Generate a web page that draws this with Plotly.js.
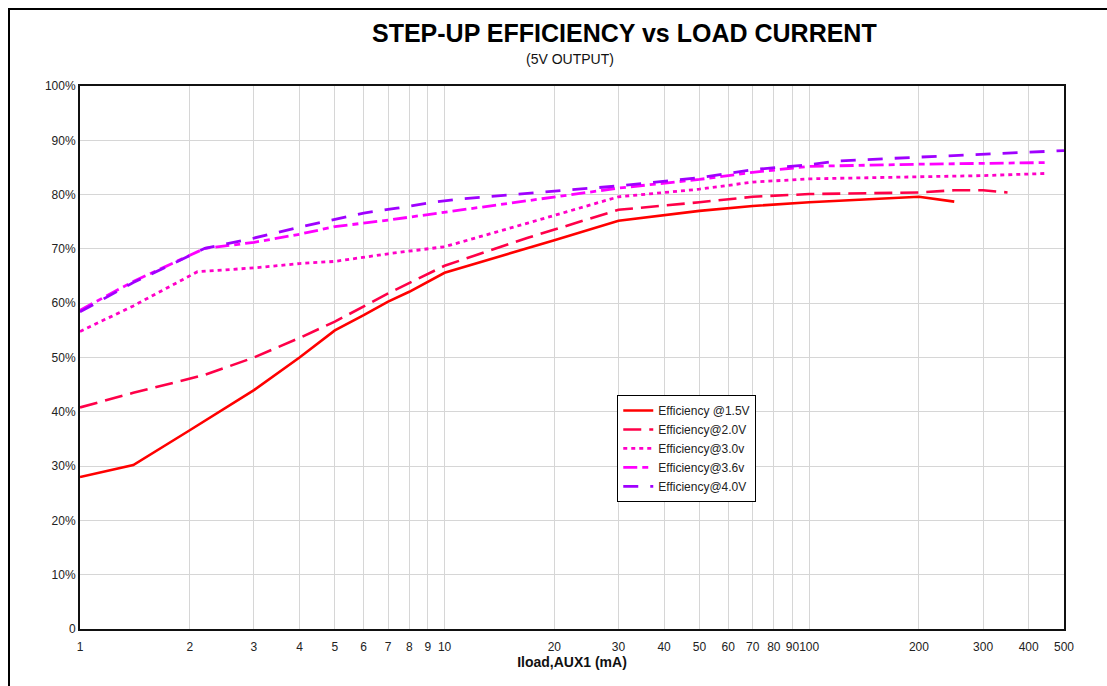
<!DOCTYPE html>
<html>
<head>
<meta charset="utf-8">
<script src="https://cdn.plot.ly/plotly-3.0.1.min.js"></script>
<style>
  html, body { margin: 0; padding: 0; background: #fff; }
  #chart { width: 1107px; height: 686px; }
  #frame { position: absolute; left: 8px; top: 8px; width: 1200px; height: 800px;
           border-left: 2px solid #000; border-top: 2px solid #000; pointer-events: none; }
</style>
</head>
<body>
<div id="chart"></div>
<div id="frame"></div>
<script>
// Load current (mA)
const x15 = [1, 1.4, 2, 3, 4, 5, 6, 7, 8, 9, 10, 20, 30, 50, 70, 100, 150, 200, 250];
const y15 = [28, 30.2, 36.6, 44, 50, 55, 57.8, 60.3, 62.1, 64, 65.6, 71.6, 75.2, 77.0, 77.9, 78.6, 79.2, 79.6, 78.7];

const x20 = [1, 1.4, 2.2, 3, 4, 5, 7, 10, 17, 30, 50, 70, 100, 200, 250, 300, 350];
const y20 = [40.8, 43.5, 46.8, 50.0, 53.6, 56.6, 61.8, 66.9, 72.1, 77.2, 78.6, 79.6, 80.1, 80.4, 80.8, 80.8, 80.4];

const x30 = [1, 1.4, 2.1, 3, 4, 5, 7, 10, 17, 30, 50, 70, 100, 200, 300, 450];
const y30 = [54.8, 59.5, 65.8, 66.5, 67.3, 67.7, 69.1, 70.4, 74.8, 79.6, 81.0, 82.3, 82.9, 83.3, 83.5, 83.9];

const x36 = [1, 1.4, 2.2, 3, 4, 5, 7, 10, 17, 30, 50, 70, 100, 200, 300, 450];
const y36 = [58.7, 64.0, 70.1, 71.2, 72.7, 74.1, 75.3, 76.8, 78.9, 81.2, 82.8, 84.1, 85.2, 85.6, 85.7, 85.9];

const x40 = [1, 1.4, 2.2, 3, 4, 5, 6, 7.4, 9.3, 11, 17, 30, 50, 70, 100, 120, 200, 300, 400, 500];
const y40 = [58.4, 63.8, 70.1, 72.0, 74.0, 75.4, 76.6, 77.5, 78.6, 79.2, 80.2, 81.6, 83.1, 84.6, 85.5, 86.2, 86.9, 87.4, 87.8, 88.1];

const seriesNames = ["Efficiency @1.5V", "Efficiency@2.0V", "Efficiency@3.0v", "Efficiency@3.6v", "Efficiency@4.0V"];

const xTickVals = [1,2,3,4,5,6,7,8,9,10,20,30,40,50,60,70,80,90,100,200,300,400,500];
const xTickText = ["1","2","3","4","5","6","7","8","9","10","20","30","40","50","60","70","80","90","100","200","300","400","500"];
const yTickVals = [0,10,20,30,40,50,60,70,80,90,100];
const yTickText = ["0","10%","20%","30%","40%","50%","60%","70%","80%","90%","100%"];

const FONT = "Arial, 'Liberation Sans', sans-serif";

const styles = [
  {color: "#ff0000", dash: "solid", width: 2.6},
  {color: "#ff0048", dash: "18px,8px", width: 2.6},
  {color: "#ff00c8", dash: "4px,4px", width: 2.8},
  {color: "#ff00ff", dash: "14px,5px,6px,5px", width: 2.8},
  {color: "#a000ff", dash: "15px,12px", width: 2.8}
];
const xs = [x15, x20, x30, x36, x40];
const ys = [y15, y20, y30, y36, y40];

const traces = xs.map((xv, i) => ({
  type: "scatter", mode: "lines", x: xv, y: ys[i], name: seriesNames[i],
  line: {color: styles[i].color, dash: styles[i].dash, width: styles[i].width},
  hoverinfo: "skip"
}));

const layout = {
  width: 1107, height: 686,
  margin: {l: 80, r: 43, t: 86, b: 57},
  paper_bgcolor: "#ffffff", plot_bgcolor: "#ffffff",
  font: {family: FONT, color: "#222", size: 12},
  showlegend: true,
  legend: {
    x: 0.546, y: 0.431, xanchor: "left", yanchor: "top",
    bgcolor: "#ffffff", bordercolor: "#000", borderwidth: 1,
    font: {family: FONT, size: 12, color: "#222"},
    tracegroupgap: 0
  },
  xaxis: {
    type: "log", range: [0, Math.log10(500)],
    tickmode: "array", tickvals: xTickVals, ticktext: xTickText, tickangle: 0,
    ticklabelstandoff: 6,
    showgrid: true, gridcolor: "#d6d6d6", gridwidth: 1,
    showline: true, linecolor: "#111", linewidth: 2, mirror: true,
    ticks: "", ticklen: 0, zeroline: false,
    tickfont: {family: FONT, size: 12, color: "#222"},
    title: {text: "<b>Iload,AUX1 (mA)</b>", font: {family: FONT, size: 14, color: "#111"}, standoff: 4}
  },
  yaxis: {
    range: [0, 100], tickmode: "array", tickvals: yTickVals, ticktext: yTickText,
    showgrid: true, gridcolor: "#d6d6d6", gridwidth: 1,
    showline: true, linecolor: "#111", linewidth: 2, mirror: true,
    ticks: "", zeroline: false,
    tickfont: {family: FONT, size: 12, color: "#222"}
  },
  annotations: [
    {text: "<b>STEP-UP EFFICIENCY vs LOAD CURRENT</b>", xref: "paper", yref: "paper",
     x: (624 - 80) / 984, y: (629 - 33) / 543, xanchor: "center", yanchor: "middle",
     showarrow: false, font: {family: FONT, size: 25, color: "#000"}},
    {text: "(5V OUTPUT)", xref: "paper", yref: "paper",
     x: (570 - 80) / 984, y: (629 - 59) / 543, xanchor: "center", yanchor: "middle",
     showarrow: false, font: {family: FONT, size: 14, color: "#111"}}
  ]
};

Plotly.newPlot("chart", traces, layout, {displayModeBar: false, staticPlot: true});
</script>
</body>
</html>
